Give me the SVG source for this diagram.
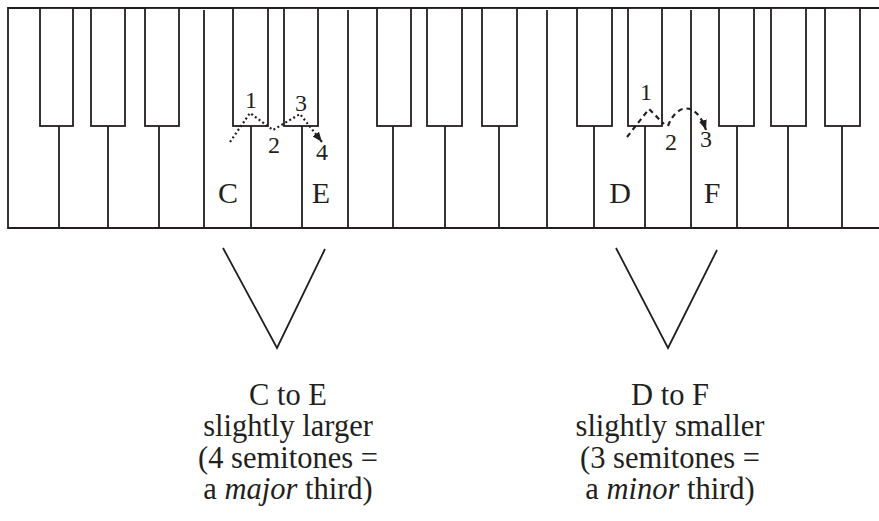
<svg xmlns="http://www.w3.org/2000/svg" width="879" height="521" viewBox="0 0 879 521">
  <style>
    .ln { fill: none; stroke: #231f20; stroke-width: 1.8; }
    .bk { fill: #ffffff; stroke: #231f20; stroke-width: 1.8; }
    .t { font-family: "Liberation Serif", "DejaVu Serif", serif; fill: #231f20; text-anchor: middle; }
    .key { font-size: 30px; }
    .num { font-size: 24px; }
    .cap { font-size: 30.5px; }
    .dot { fill: none; stroke: #231f20; stroke-width: 2.2; stroke-dasharray: 2 2.6; }
    .dash { fill: none; stroke: #231f20; stroke-width: 2.2; stroke-dasharray: 5 4; }
  </style>
  <defs>
    <marker id="ah" markerUnits="userSpaceOnUse" markerWidth="11" markerHeight="9" refX="10" refY="4" orient="auto">
      <path d="M0,0 L10,4 L0,8 z" fill="#231f20" stroke="none"/>
    </marker>
  </defs>
  <rect width="879" height="521" fill="#ffffff"/>

  <g id="keyboard">
    <path class="ln" d="M879,8 H8 V228 H879"/>
    <path class="ln" d="M59,126 V228 M108,126 V228 M159,126 V228 M204,10 V228 M251,126 V228 M302,126 V228 M348,10 V228 M393,126 V228 M445,126 V228 M499,126 V228 M547,10 V228 M594,126 V228 M645,126 V228 M691,10 V228 M737,126 V228 M788,126 V228 M842,126 V228"/>
    <rect class="bk" x="40" y="8" width="33" height="118"/>
    <rect class="bk" x="91" y="8" width="34" height="118"/>
    <rect class="bk" x="145" y="8" width="34" height="118"/>
    <rect class="bk" x="233" y="8" width="35" height="118"/>
    <rect class="bk" x="284" y="8" width="34" height="118"/>
    <rect class="bk" x="377" y="8" width="34" height="118"/>
    <rect class="bk" x="427" y="8" width="35" height="118"/>
    <rect class="bk" x="482" y="8" width="35" height="118"/>
    <rect class="bk" x="577" y="8" width="35" height="118"/>
    <rect class="bk" x="628" y="8" width="34" height="118"/>
    <rect class="bk" x="719" y="8" width="35" height="118"/>
    <rect class="bk" x="771" y="8" width="35" height="118"/>
    <rect class="bk" x="825" y="8" width="35" height="118"/>
  </g>

  <g id="key-labels">
    <text class="t key" x="228" y="203">C</text>
    <text class="t key" x="321" y="203">E</text>
    <text class="t key" x="620" y="203">D</text>
    <text class="t key" x="712" y="203">F</text>
  </g>

  <g id="connectors">
    <path class="dot" d="M230,142 L250,113 L273,130 L300,114 L322,142" marker-end="url(#ah)"/>
    <path class="dash" d="M627,137 L649,109 L664,124 M668,126 C676,104 696,100 706,130" marker-end="url(#ah)"/>
  </g>

  <g id="step-numbers">
    <text class="t num" x="251" y="108">1</text>
    <text class="t num" x="274" y="153">2</text>
    <text class="t num" x="301" y="111">3</text>
    <text class="t num" x="322" y="160">4</text>
    <text class="t num" x="646" y="100">1</text>
    <text class="t num" x="671" y="150">2</text>
    <text class="t num" x="706" y="147">3</text>
  </g>

  <g id="brackets">
    <path class="ln" d="M223,248 L277,348 L325,249"/>
    <path class="ln" d="M616,248 L668,348 L717,250"/>
  </g>

  <g id="caption-major">
    <text class="t cap" x="288" y="405">C to E</text>
    <text class="t cap" x="288" y="436">slightly larger</text>
    <text class="t cap" x="288" y="468">(4 semitones =</text>
    <text class="t cap" x="288" y="499">a <tspan font-style="italic">major</tspan> third)</text>
  </g>

  <g id="caption-minor">
    <text class="t cap" x="670" y="405">D to F</text>
    <text class="t cap" x="670" y="436">slightly smaller</text>
    <text class="t cap" x="670" y="468">(3 semitones =</text>
    <text class="t cap" x="670" y="499">a <tspan font-style="italic">minor</tspan> third)</text>
  </g>
</svg>
